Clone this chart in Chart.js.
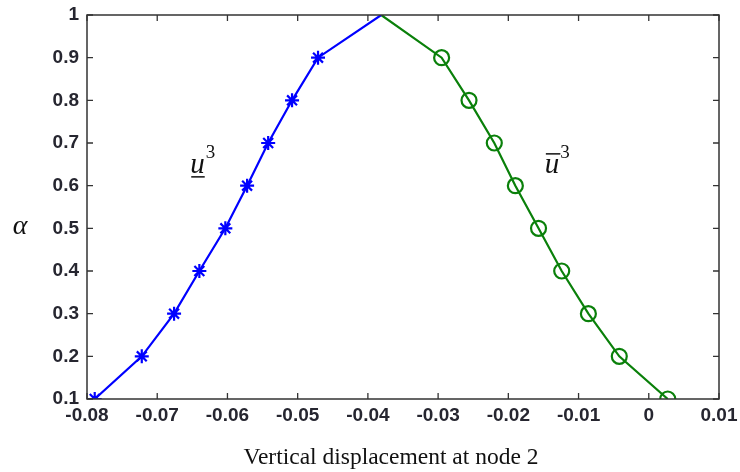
<!DOCTYPE html>
<html>
<head>
<meta charset="utf-8">
<script src="https://cdn.jsdelivr.net/npm/chart.js@4.4.1/dist/chart.umd.min.js"></script>
<style>
  html, body { margin: 0; padding: 0; background: #ffffff; }
  #wrap { width: 740px; height: 472px; position: relative; }
</style>
</head>
<body>
<div id="wrap"><canvas id="c" width="740" height="472"></canvas></div>
<script>
// ---- data ----
const alpha = [0.1, 0.2, 0.3, 0.4, 0.5, 0.6, 0.7, 0.8, 0.9, 1.0];
const lowerU = [-0.0789, -0.0722, -0.0676, -0.0640, -0.0603, -0.0572, -0.0542, -0.0508, -0.0471, -0.0381];
const upperU = [0.0027, -0.0042, -0.0086, -0.0124, -0.0157, -0.0190, -0.0220, -0.0256, -0.0295, -0.0381];
const xTicks = [-0.08, -0.07, -0.06, -0.05, -0.04, -0.03, -0.02, -0.01, 0, 0.01];
const xTickLabels = ['-0.08', '-0.07', '-0.06', '-0.05', '-0.04', '-0.03', '-0.02', '-0.01', '0', '0.01'];
const yTicks = [0.1, 0.2, 0.3, 0.4, 0.5, 0.6, 0.7, 0.8, 0.9, 1.0];
const yTickLabels = ['0.1', '0.2', '0.3', '0.4', '0.5', '0.6', '0.7', '0.8', '0.9', '1'];
const xTitle = 'Vertical displacement at node 2';
const yTitle = 'α';
const lowerLabel = { x: -0.0653, y: 0.63 };
const upperLabel = { x: -0.0148, y: 0.63 };

const lowerPts = alpha.map((a, i) => ({ x: lowerU[i], y: a }));
const upperPts = alpha.map((a, i) => ({ x: upperU[i], y: a }));

const frameColor = '#333333';
const tickFont = { family: 'Liberation Sans, Arial, sans-serif', size: 19, weight: 'bold' };

const framePlugin = {
  id: 'frame',
  afterDatasetsDraw(chart) {
    const { ctx, chartArea: a, scales } = chart;
    const xs = scales.x, ys = scales.y;
    ctx.save();
    ctx.strokeStyle = frameColor;
    ctx.lineWidth = 1.5;
    ctx.strokeRect(a.left, a.top, a.right - a.left, a.bottom - a.top);
    const tl = 6;
    ctx.lineWidth = 1.3;
    ctx.beginPath();
    xTicks.forEach(v => {
      const px = xs.getPixelForValue(v);
      ctx.moveTo(px, a.bottom); ctx.lineTo(px, a.bottom - tl);
      ctx.moveTo(px, a.top); ctx.lineTo(px, a.top + tl);
    });
    yTicks.forEach(v => {
      const py = ys.getPixelForValue(v);
      ctx.moveTo(a.left, py); ctx.lineTo(a.left + tl, py);
      ctx.moveTo(a.right, py); ctx.lineTo(a.right - tl, py);
    });
    ctx.stroke();

    // curve labels
    ctx.fillStyle = '#111111';
    ctx.strokeStyle = '#111111';
    ctx.textBaseline = 'alphabetic';
    ctx.textAlign = 'left';
    const drawU = (pos, under) => {
      const px = xs.getPixelForValue(pos.x);
      const py = ys.getPixelForValue(pos.y);
      ctx.font = 'italic 29px "Liberation Serif", "DejaVu Serif", serif';
      const w = ctx.measureText('u').width;
      ctx.fillText('u', px, py);
      ctx.lineWidth = 1.5;
      ctx.beginPath();
      if (under) { ctx.moveTo(px + 1, py + 4); ctx.lineTo(px + w, py + 4); }
      else { ctx.moveTo(px + 1, py - 19); ctx.lineTo(px + w + 1, py - 19); }
      ctx.stroke();
      ctx.font = '19px "Liberation Serif", "DejaVu Serif", serif';
      ctx.fillText('3', px + w + 1, py - 15);
    };
    drawU(lowerLabel, true);
    drawU(upperLabel, false);

    // axis titles
    ctx.font = 'italic 28px "Liberation Serif", "DejaVu Serif", serif';
    ctx.textAlign = 'center';
    ctx.textBaseline = 'alphabetic';
    ctx.fillText(yTitle, 20, ys.getPixelForValue(0.5) + 6);
    ctx.font = '23.5px "Liberation Serif", "Times New Roman", serif';
    ctx.textBaseline = 'middle';
    ctx.fillText(xTitle, 391, 458);
    ctx.restore();
  }
};

new Chart(document.getElementById('c'), {
  type: 'scatter',
  data: {
    datasets: [
      {
        data: lowerPts,
        showLine: true,
        borderColor: '#0000ff',
        backgroundColor: '#0000ff',
        borderWidth: 2.2,
        pointStyle: 'star',
        pointRadius: ctx => (ctx.dataIndex === alpha.length - 1 ? 0 : 7),
        pointBorderWidth: 2.2,
        pointHoverRadius: 7,
        tension: 0
      },
      {
        data: upperPts,
        showLine: true,
        borderColor: '#0a800a',
        backgroundColor: 'rgba(0,0,0,0)',
        borderWidth: 2.2,
        pointStyle: 'circle',
        pointRadius: ctx => (ctx.dataIndex === alpha.length - 1 ? 0 : 7.5),
        pointBorderWidth: 2.2,
        pointHoverRadius: 7.5,
        tension: 0
      }
    ]
  },
  options: {
    responsive: false,
    animation: false,
    layout: { padding: { left: 0, top: 15, right: 21, bottom: 0 } },
    plugins: { legend: { display: false }, tooltip: { enabled: false } },
    scales: {
      x: {
        type: 'linear',
        min: -0.08, max: 0.01,
        afterBuildTicks: s => { s.ticks = xTicks.map(v => ({ value: v })); },
        afterFit: s => { s.height = 73; s.paddingLeft = 0; s.paddingRight = 0; },
        grid: { display: false, drawTicks: false },
        border: { display: false },
        ticks: {
          font: tickFont, color: '#262630', padding: 5, maxRotation: 0, autoSkip: false,
          callback: (v, i) => xTickLabels[i]
        }
      },
      y: {
        type: 'linear',
        min: 0.1, max: 1.0,
        afterBuildTicks: s => { s.ticks = yTicks.map(v => ({ value: v })); },
        afterFit: s => { s.width = 87; s.paddingTop = 0; s.paddingBottom = 0; },
        grid: { display: false, drawTicks: false },
        border: { display: false },
        ticks: {
          font: tickFont, color: '#262630', padding: 8, autoSkip: false,
          callback: (v, i) => yTickLabels[i]
        }
      }
    }
  },
  plugins: [framePlugin]
});
</script>
</body>
</html>
